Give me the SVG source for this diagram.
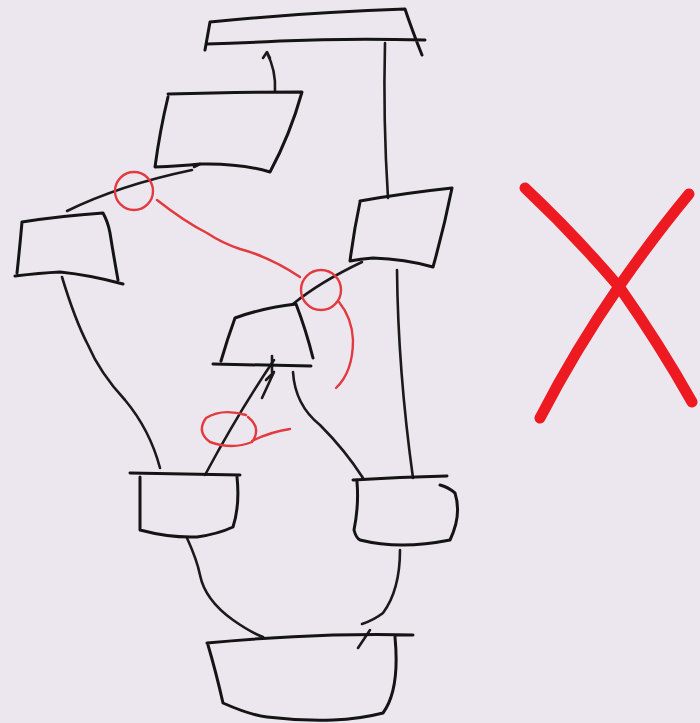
<svg xmlns="http://www.w3.org/2000/svg" width="700" height="723" viewBox="0 0 700 723">
<style>
.n{fill:none;stroke:#141414;stroke-width:3;stroke-linecap:round;stroke-linejoin:round}
.c{fill:none;stroke:#1a1a1a;stroke-width:2.6;stroke-linecap:round;stroke-linejoin:round}
.r{fill:none;stroke:#e23a3e;stroke-width:2.4;stroke-linecap:round;stroke-linejoin:round}
.x{fill:none;stroke:#ee1a22;stroke-width:11;stroke-linecap:round}
</style>
<rect width="700" height="723" fill="#ece7ef"/>
<g id="connectors">
<path class="c" d="M267,53 Q276,70 275,91"/>
<path class="c" d="M263,58 L267,52 L270,58"/>
<path class="c" d="M385,43 Q383,120 388,198"/>
<path class="c" d="M397,270 Q398,370 413,478"/>
<path class="c" d="M194,167 L200,164 M192,170 Q120,185 67,211"/>
<path class="c" d="M362,262 Q320,282 293,304"/>
<path class="c" d="M62,277 Q75,320 88,345 Q100,373 125,400 Q150,430 160,468"/>
<path class="c" d="M205,475 Q240,410 274,360"/>
<path class="c" d="M272,356 L272,372"/>
<path class="c" d="M266,380 L274,372 L262,398"/>
<path class="c" d="M293,372 Q295,405 320,425 Q345,450 363,478"/>
<path class="c" d="M187,538 Q197,560 200,575 Q205,600 233,620 Q250,632 263,637"/>
<path class="c" d="M400,550 Q400,590 383,613 Q374,620 362,624"/>
<path class="c" d="M370,630 L358,648"/>
</g>
<g id="nodeA"><path class="n" d="M210,22 Q310,12 405,9 Q412,30 422,55 M205,50 L210,22 M207,44 Q240,43 280,41 Q350,38 425,40"/></g>
<g id="nodeB"><path class="n" d="M168,94 Q240,92 302,92 Q290,135 270,172 Q240,163 200,164 Q180,166 155,167 Q160,130 168,97"/></g>
<g id="nodeC"><path class="n" d="M22,222 Q60,216 103,213 Q108,222 110,233 Q114,258 118,280 M17,273 Q20,245 22,222 M15,276 Q40,273 60,272 Q90,275 123,284"/></g>
<g id="nodeD"><path class="n" d="M360,201 Q405,193 452,188 Q444,228 433,267 Q405,259 373,258 Q360,259 350,261 Q354,230 360,202"/></g>
<g id="nodeE"><path class="n" d="M235,318 Q262,308 296,304 Q306,330 313,358 M235,318 Q227,340 221,361 M213,364 Q260,365 311,366"/></g>
<g id="nodeF"><path class="n" d="M353,480 Q400,477 447,476 M357,482 Q359,505 354,530 Q356,538 360,540 Q400,550 450,540 Q462,515 455,493 Q448,487 440,485"/></g>
<g id="nodeG"><path class="n" d="M130,473 Q185,474 240,475 M140,477 L140,530 Q170,538 197,537 Q218,534 233,527 Q240,505 237,477"/></g>
<g id="nodeH"><path class="n" d="M207,643 Q270,637 333,635 Q380,634 413,635 M208,645 Q216,672 223,703 Q250,715 267,717 Q300,721 333,720 Q360,719 383,713 Q400,690 395,637"/></g>
<g id="annotations">
<circle class="r" cx="134" cy="191" r="19"/>
<path class="r" d="M157,200 Q185,222 207,233 Q222,243 240,249 Q270,257 300,277"/>
<circle class="r" cx="321" cy="290" r="20"/>
<path class="r" d="M339,302 Q352,318 353,340 Q353,372 336,388"/>
<path class="r" d="M246,415 Q222,408 206,418 Q196,432 210,442 Q232,450 252,442 Q262,428 248,417 M252,441 Q270,432 290,429"/>
<path class="x" d="M525,188 Q575,235 620,288 Q660,345 692,402"/>
<path class="x" d="M689,194 Q655,235 620,285 Q575,350 540,418"/>
</g>
</svg>
